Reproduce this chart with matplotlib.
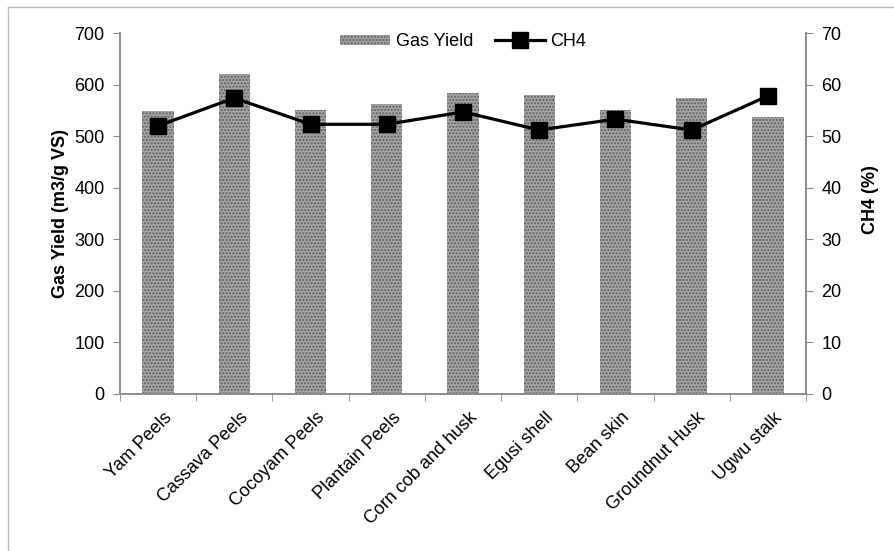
import numpy as np
import matplotlib
matplotlib.use('Agg')
import matplotlib.pyplot as plt
from matplotlib.lines import Line2D
from matplotlib.patches import Rectangle

plt.rcParams['font.family'] = ['Liberation Sans', 'DejaVu Sans']
plt.rcParams['hatch.linewidth'] = 1.0

# values
categories = ['Yam Peels', 'Cassava Peels', 'Cocoyam Peels', 'Plantain Peels',
              'Corn cob and husk', 'Egusi shell', 'Bean skin', 'Groundnut Husk', 'Ugwu stalk']
gas_yield = [548, 620, 551, 562, 584, 580, 551, 574, 537]
ch4 = [52.0, 57.4, 52.3, 52.3, 54.7, 51.2, 53.3, 51.2, 57.8]

spine_col = '#8c8c8c'
bar_face = '#a4a4a4'
bar_hatch = '#5e5e5e'
fs = 13

fig = plt.figure(figsize=(8.95, 5.51), dpi=100)
ax = fig.add_axes([0.134, 0.285, 0.7666, 0.655])
ax2 = ax.twinx()

x = np.arange(len(categories))
ax.bar(x, gas_yield, width=0.41, color=bar_face, edgecolor=bar_hatch,
       hatch='.....', linewidth=0, zorder=2)
ax2.plot(x, ch4, color='black', lw=2.3, marker='s', markersize=11, zorder=3)

ax.set_xlim(-0.5, len(categories) - 0.5)
ax.set_ylim(0, 700)
ax2.set_ylim(0, 70)
ax.set_yticks(range(0, 701, 100))
ax2.set_yticks(range(0, 71, 10))

# category labels on major ticks, tick marks on category boundaries
ax.set_xticks(x + 0.07)
ax.set_xticklabels(categories, rotation=45, ha='right', rotation_mode='anchor', fontsize=fs)
ax.set_xticks(np.arange(-0.5, len(categories), 1), minor=True)
ax.tick_params(axis='x', which='major', length=0, pad=11)
ax.tick_params(axis='x', which='minor', length=5, color=spine_col, direction='out')
ax.tick_params(axis='y', labelsize=fs, length=5, color=spine_col, pad=6)
ax2.tick_params(axis='y', labelsize=fs, length=5, color=spine_col, pad=6)

for a in (ax, ax2):
    a.spines['top'].set_visible(False)
    for s in ('left', 'right', 'bottom'):
        a.spines[s].set_color(spine_col)
        a.spines[s].set_linewidth(1.2)

ax.set_ylabel('Gas Yield (m3/g VS)', fontsize=fs, fontweight='bold', labelpad=4)
ax2.set_ylabel('CH4 (%)', fontsize=fs, fontweight='bold', labelpad=6)
ax2.yaxis.set_label_coords(1.082, 0.54)

handles = [Rectangle((0, 0), 1, 1, facecolor=bar_face, edgecolor=bar_hatch, hatch='.....', linewidth=0),
           Line2D([0], [0], color='black', lw=2.3, marker='s', markersize=11)]
ax2.legend(handles, ['Gas Yield', 'CH4'], loc='upper center', bbox_to_anchor=(0.5, 1.045),
           ncol=2, frameon=False, fontsize=fs, handlelength=2.8, handleheight=0.5,
           columnspacing=1.2, handletextpad=0.3)

# light grey frame of the chart area (only left and top edges visible)
fig.add_artist(Line2D([0.009, 0.009], [0, 0.987], color='#bdbdbd', lw=1, transform=fig.transFigure))
fig.add_artist(Line2D([0.009, 1.0], [0.987, 0.987], color='#bdbdbd', lw=1, transform=fig.transFigure))

fig.savefig('out.png', dpi=100)
